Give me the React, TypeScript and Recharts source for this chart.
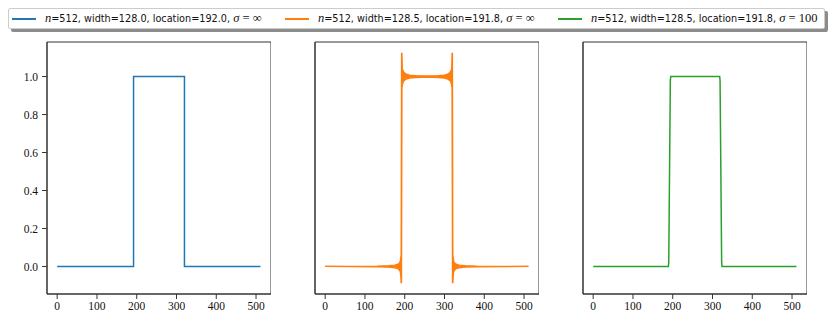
import React from "react"
import { ComposedChart, Line, Area, XAxis, YAxis, ReferenceArea } from "recharts"

// panel 1: ideal box, sampled exactly
const boxX = [0, 192, 192, 320, 320, 511]
const boxY = [0, 0, 1, 1, 0, 0]

// panel 2: sinc-shifted box, ringing drawn as an envelope band (lo / hi)
const ringX = [0, 130, 160, 175, 183, 187, 189, 190, 191, 192, 193, 194, 196, 199, 204, 212, 228, 256, 284, 300, 308, 313, 316, 318, 319, 320, 321, 322, 323, 325, 329, 337, 352, 382, 511]
const ringLo = [0, -0.002, -0.004, -0.007, -0.012, -0.02, -0.03, -0.05, -0.085, -0.085, 0.94, 0.955, 0.97, 0.98, 0.987, 0.992, 0.995, 0.997, 0.995, 0.992, 0.987, 0.98, 0.97, 0.955, 0.94, -0.085, -0.085, -0.05, -0.03, -0.02, -0.012, -0.007, -0.004, -0.002, 0]
const ringHi = [0, 0.002, 0.004, 0.007, 0.012, 0.02, 0.03, 0.045, 0.06, 1.122, 1.122, 1.04, 1.03, 1.02, 1.013, 1.008, 1.005, 1.003, 1.005, 1.008, 1.013, 1.02, 1.03, 1.04, 1.122, 1.122, 0.06, 0.045, 0.03, 0.02, 0.012, 0.007, 0.004, 0.002, 0]

// panel 3: smoothed box (sigma = 100)
const smoothX = [0, 189, 190, 192, 194, 195, 318, 319, 321, 323, 324, 511]
const smoothY = [0, 0, 0.02, 0.5, 0.98, 1, 1, 0.98, 0.5, 0.02, 0, 0]

const xTicks = [0, 100, 200, 300, 400, 500]
const yTicks = [0, 0.2, 0.4, 0.6, 0.8, 1.0]

const colors = ["#1f77b4", "#ff7f0e", "#2ca02c"]
const legendWidths = ["128.0", "128.5", "128.5"]
const legendLocations = ["192.0", "191.8", "191.8"]
const legendSigmas = ["\u221e", "\u221e", "100"]

const boxData = boxX.map((x, i) => ({ x, y: boxY[i] }))
const ringData = ringX.map((x, i) => ({ x, range: [ringLo[i], ringHi[i]] }))
const smoothData = smoothX.map((x, i) => ({ x, y: smoothY[i] }))

const xDomain = [-25.6, 537.6]
const yDomain = [-0.145, 1.182]
const axisColor = "#333"
const tickFont = { fontFamily: "Liberation Serif", fontSize: 11.5, fill: "#111" }
const serif = "Liberation Serif, serif"

function Panel({ left, data, showLabels, children }: any) {
  return (
    <div style={{ position: "absolute", left, top: 0 }}>
      <ComposedChart width={271} height={320} data={data} margin={{ top: 42, right: 0, bottom: 0, left: 0 }}>
        <XAxis
          dataKey="x"
          type="number"
          domain={xDomain}
          allowDataOverflow
          ticks={xTicks}
          height={26}
          tickSize={5}
          tickMargin={3}
          stroke={axisColor}
          tick={tickFont}
        />
        <YAxis
          type="number"
          domain={yDomain}
          allowDataOverflow
          ticks={yTicks}
          width={47}
          tickSize={5}
          tickMargin={4}
          stroke={axisColor}
          tick={showLabels ? tickFont : false}
          tickFormatter={(v: number) => v.toFixed(1)}
        />
        {children}
        <ReferenceArea
          x1={xDomain[0]}
          x2={xDomain[1]}
          y1={yDomain[0]}
          y2={yDomain[1]}
          fill="none"
          stroke={axisColor}
          strokeWidth={1}
          ifOverflow="visible"
        />
      </ComposedChart>
    </div>
  )
}

function LegendItem({ i }: { i: number }) {
  const sig = legendSigmas[i]
  return (
    <div style={{ width: i < 2 ? 273 : 262, display: "flex", alignItems: "center" }}>
      <div style={{ width: 24, height: 2, background: colors[i], marginRight: 9 }} />
      <span style={{ fontFamily: "DejaVu Sans, sans-serif", fontSize: 9.7, whiteSpace: "nowrap", color: "#111" }}>
        <span style={{ fontFamily: serif, fontStyle: "italic", fontSize: 12.5 }}>n</span>=512, width={legendWidths[i]}, location={legendLocations[i]},{" "}
        <span style={{ fontFamily: serif, fontSize: 12.5 }}>
          <i>{"\u03c3"}</i> = {sig}
        </span>
      </span>
    </div>
  )
}

export default function App() {
  return (
    <div style={{ position: "absolute", left: 0, top: 0, width: 830, height: 320, background: "#fff", overflow: "hidden" }}>
      <Panel left={0} data={boxData} showLabels>
        <Line dataKey="y" type="linear" stroke={colors[0]} strokeWidth={1.5} dot={false} isAnimationActive={false} />
      </Panel>
      <Panel left={268} data={ringData} showLabels={false}>
        <Area
          dataKey="range"
          type="linear"
          stroke={colors[1]}
          strokeWidth={1.3}
          fill={colors[1]}
          fillOpacity={1}
          dot={false}
          activeDot={false}
          isAnimationActive={false}
        />
      </Panel>
      <Panel left={536} data={smoothData} showLabels={false}>
        <Line dataKey="y" type="linear" stroke={colors[2]} strokeWidth={1.5} dot={false} isAnimationActive={false} />
      </Panel>
      <div
        style={{
          position: "absolute",
          left: 8,
          top: 8,
          width: 812,
          height: 19,
          border: "1px solid #ccc",
          borderRadius: 2,
          background: "#fff",
          boxShadow: "3px 3px 0 rgba(0,0,0,0.45)",
          display: "flex",
          alignItems: "center",
          paddingLeft: 3,
          boxSizing: "content-box",
        }}
      >
        <LegendItem i={0} />
        <LegendItem i={1} />
        <LegendItem i={2} />
      </div>
    </div>
  )
}
